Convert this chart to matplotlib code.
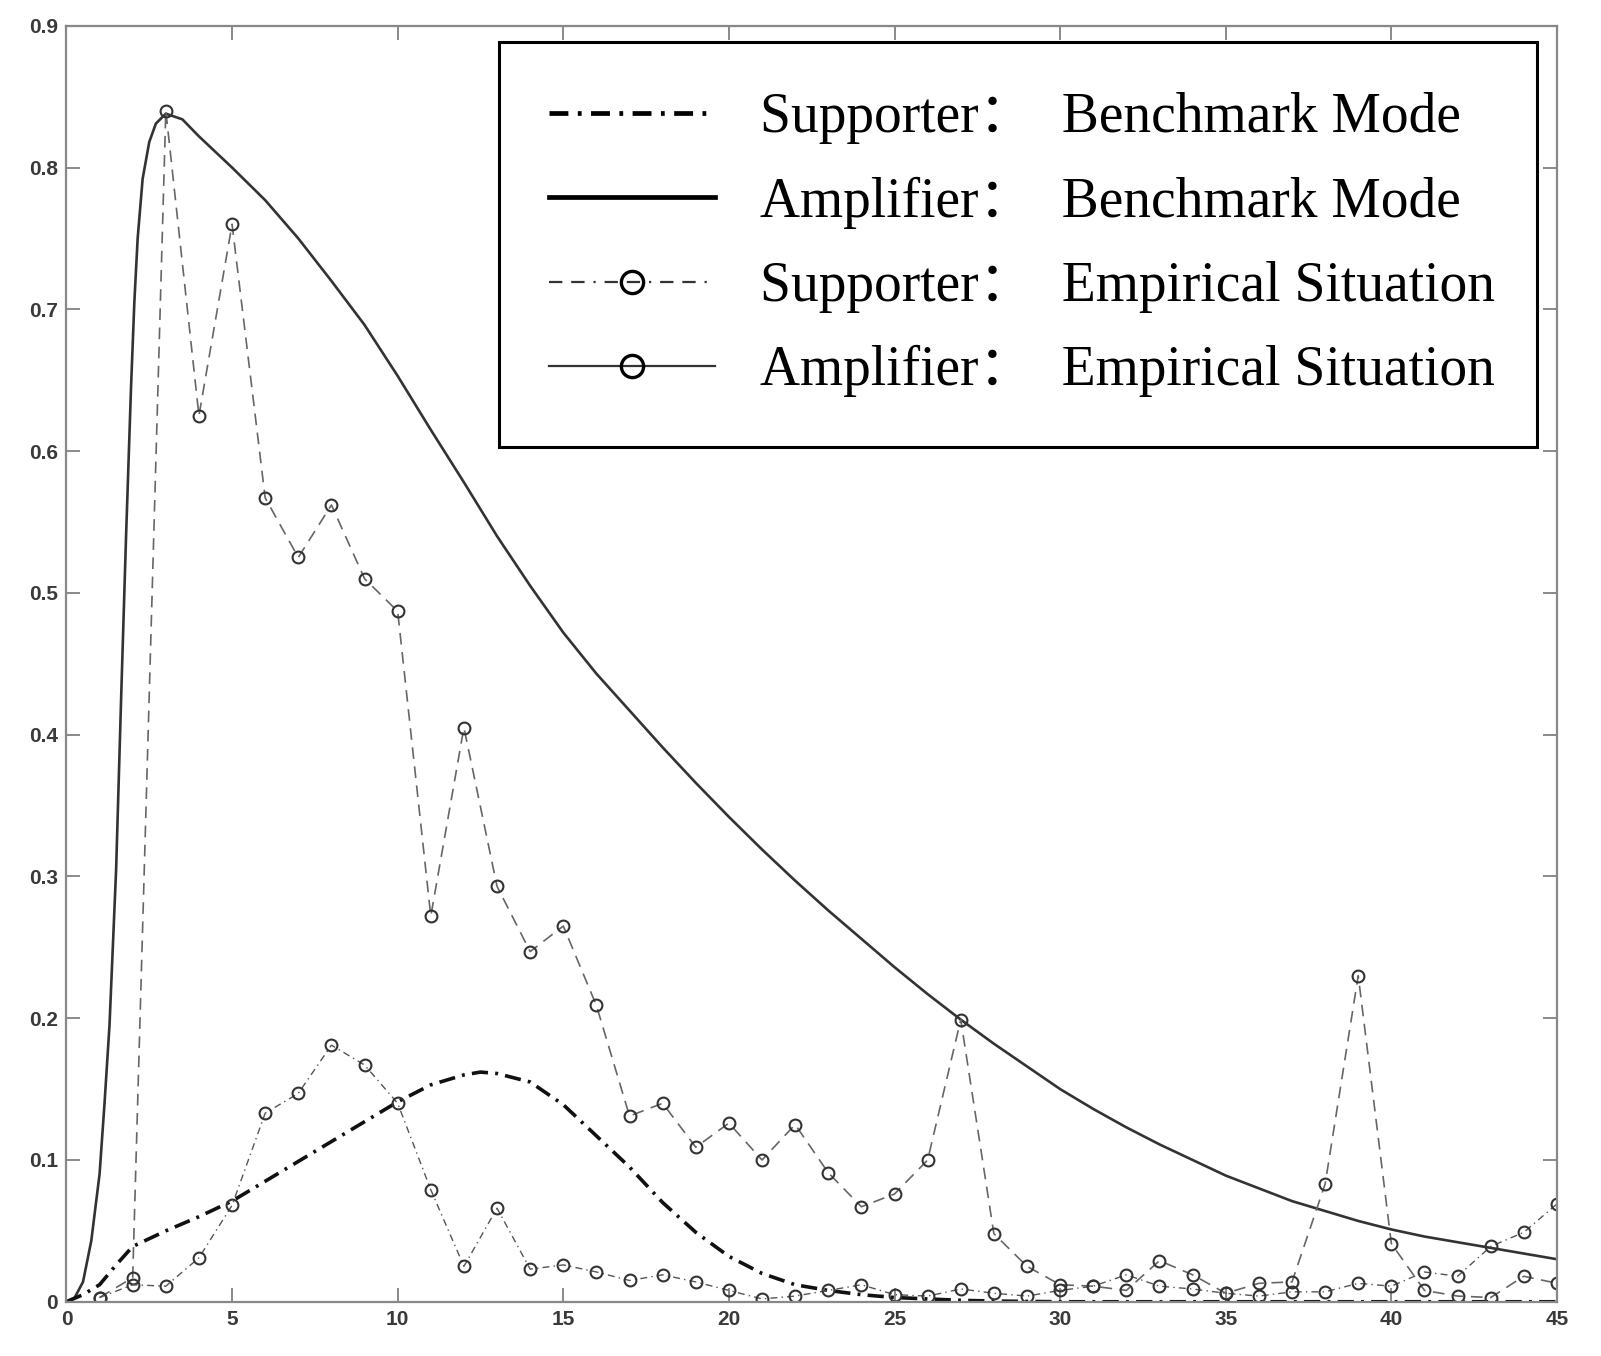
import numpy as np
import matplotlib.pyplot as plt
from matplotlib.lines import Line2D

# benchmark curves
x_amp_bm = [0, 0.25, 0.5, 0.75, 1.0, 1.15, 1.3, 1.5, 1.65, 1.8, 1.95, 2.05, 2.15, 2.3, 2.5, 2.7, 3.0,
            3.5, 4, 5, 6, 7, 8, 9, 10, 11, 12, 13, 14, 15, 16, 17, 18, 19, 20,
            21, 22, 23, 24, 25, 26, 27, 28, 29, 30, 31, 32, 33, 34, 35, 36, 37, 38, 39, 40,
            41, 42, 43, 44, 45]
y_amp_bm = [0, 0.003, 0.014, 0.043, 0.090, 0.140, 0.195, 0.305, 0.425, 0.540, 0.645, 0.705, 0.750, 0.792, 0.818, 0.831, 0.838,
            0.834, 0.822, 0.800, 0.777, 0.750, 0.720, 0.689, 0.653, 0.615, 0.578, 0.540, 0.505, 0.472, 0.443, 0.417, 0.391, 0.366, 0.342,
            0.319, 0.297, 0.276, 0.256, 0.236, 0.217, 0.199, 0.182, 0.166, 0.150, 0.136, 0.123, 0.111, 0.100, 0.089, 0.080, 0.071, 0.064, 0.057, 0.051,
            0.046, 0.042, 0.038, 0.034, 0.030]

x_sup_bm = [0, 0.5, 1, 1.5, 2, 3, 4, 5, 6, 7, 8, 9, 10, 11, 12, 12.5, 13, 14, 15, 16, 17, 18, 19,
            20, 21, 22, 23, 24, 25, 26, 27, 28, 30, 35, 40, 45]
y_sup_bm = [0, 0.005, 0.012, 0.026, 0.039, 0.050, 0.060, 0.071, 0.085, 0.099, 0.113, 0.127, 0.141, 0.153, 0.160, 0.162, 0.161, 0.155, 0.139, 0.117, 0.095, 0.070, 0.049,
            0.032, 0.020, 0.012, 0.008, 0.005, 0.003, 0.002, 0.001, 0.0005, 0.0, 0.0, 0.0, 0.0]

# empirical series, one point per period
periods = list(range(1, 46))
amp_emp = [0.003, 0.017, 0.840, 0.625, 0.760, 0.567, 0.525, 0.562, 0.510, 0.487,
           0.272, 0.405, 0.293, 0.247, 0.265, 0.209, 0.131, 0.140, 0.109, 0.126,
           0.100, 0.125, 0.091, 0.067, 0.076, 0.100, 0.199, 0.048, 0.025, 0.012,
           0.011, 0.008, 0.029, 0.019, 0.006, 0.013, 0.014, 0.083, 0.230, 0.041,
           0.008, 0.004, 0.003, 0.018, 0.013]
sup_emp = [0.003, 0.012, 0.011, 0.031, 0.068, 0.133, 0.147, 0.181, 0.167, 0.140,
           0.079, 0.025, 0.066, 0.023, 0.026, 0.021, 0.015, 0.019, 0.014, 0.008,
           0.002, 0.004, 0.008, 0.012, 0.005, 0.004, 0.009, 0.006, 0.004, 0.008,
           0.011, 0.019, 0.011, 0.009, 0.006, 0.004, 0.007, 0.007, 0.013, 0.011,
           0.021, 0.018, 0.039, 0.049, 0.069]

labels = ['Supporter：  Benchmark Mode', 'Amplifier：  Benchmark Mode',
          'Supporter：  Empirical Situation', 'Amplifier：  Empirical Situation']

fig = plt.figure(figsize=(16.01, 13.56), dpi=100)
ax = fig.add_axes([0.0415, 0.04, 0.931, 0.941])

ax.plot(x_amp_bm, y_amp_bm, color='#333333', lw=1.9)
ax.plot(x_sup_bm, y_sup_bm, color='#111111', lw=2.6, dashes=(4.5, 2, 0.8, 2))
ax.plot(periods, amp_emp, color='#666666', lw=1.2, dashes=(7, 4.5),
        marker='o', ms=8.5, mew=1.5, mec='#333333', mfc='none')
ax.plot(periods, sup_emp, color='#555555', lw=1.0, dashes=(5, 3, 1, 3),
        marker='o', ms=8.5, mew=1.5, mec='#333333', mfc='none')

ax.set_xlim(0, 45)
ax.set_ylim(0, 0.9)
ax.set_xticks(range(0, 46, 5))
ax.set_yticks(np.arange(0, 0.91, 0.1))
ax.set_yticklabels(['0', '0.1', '0.2', '0.3', '0.4', '0.5', '0.6', '0.7', '0.8', '0.9'])
ax.tick_params(direction='in', length=10, width=1.2, colors='#777777', labelcolor='#3a3a3a',
               labelsize=15, top=True, right=True, pad=6)
for lab in ax.get_xticklabels() + ax.get_yticklabels():
    lab.set_family('Liberation Sans')
    lab.set_fontweight('bold')
for s in ax.spines.values():
    s.set_color('#888888')
    s.set_linewidth(1.6)

handles = [
    Line2D([], [], color='black', lw=3.4, dashes=(4, 2, 0.8, 2)),
    Line2D([], [], color='black', lw=3.4),
    Line2D([], [], color='#333333', lw=1.6, dashes=(6, 4, 6, 4, 1, 4), marker='o', ms=16, mew=2.4,
           mec='black', mfc='none'),
    Line2D([], [], color='#333333', lw=1.6, marker='o', ms=16, mew=2.4, mec='black', mfc='none'),
]
leg = ax.legend(handles, labels, loc='upper left', bbox_to_anchor=(0.290, 0.676, 0.6966, 0.311),
                mode='expand',
                prop={'family': ['Liberation Serif', 'Noto Sans CJK SC'], 'size': 40},
                handlelength=3.0, handletextpad=0.8, labelspacing=0.58, borderpad=0.9,
                borderaxespad=0, fancybox=False, framealpha=1, edgecolor='black')
leg.get_frame().set_linewidth(2.2)

plt.savefig('out.png')
